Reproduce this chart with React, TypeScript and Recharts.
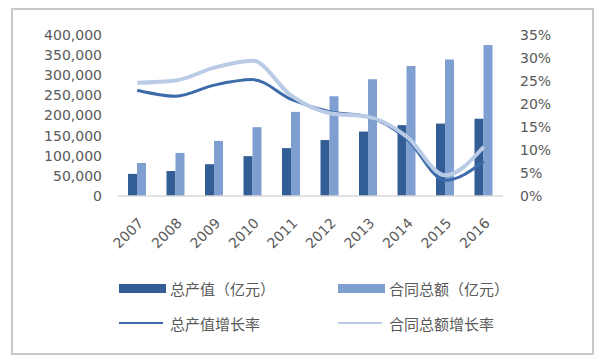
import React from 'react';
import { ComposedChart, Bar, Line, XAxis, YAxis } from 'recharts';

const years = ['2007', '2008', '2009', '2010', '2011', '2012', '2013', '2014', '2015', '2016'];
const outputValue = [55000, 62000, 79000, 99000, 119000, 139000, 160000, 176000, 180000, 192000];
const contractValue = [82000, 107000, 137000, 171000, 209000, 248000, 290000, 323000, 339000, 375000];
const outputGrowth = [23.0, 21.7, 24.1, 25.3, 21.0, 18.3, 17.2, 12.4, 3.4, 7.5];
const contractGrowth = [24.6, 25.1, 27.9, 29.4, 21.8, 18.0, 17.2, 12.9, 4.5, 10.7];

const leftTicks = [0, 50000, 100000, 150000, 200000, 250000, 300000, 350000, 400000];
const rightTicks = [0, 5, 10, 15, 20, 25, 30, 35];

const names = ['总产值（亿元）', '合同总额（亿元）', '总产值增长率', '合同总额增长率'];
const colors = ['#325e95', '#7f9fd0', '#3d6aa9', '#b9cbe5'];

const data = years.map((y, i) => ({
  year: y,
  output: outputValue[i],
  contract: contractValue[i],
  outputRate: outputGrowth[i],
  contractRate: contractGrowth[i],
}));

const axisTick = { fill: '#595959', fontSize: 14, fontFamily: 'DejaVu Sans' };

const LegendBox = () => (
  <div style={{ position: 'absolute', left: 0, top: 0, width: 600, height: 360, pointerEvents: 'none', fontFamily: '"Noto Sans CJK SC"', fontSize: 15, color: '#595959' }}>
    {names.map((n, i) => {
      const left = i % 2 === 0 ? 119 : 338;
      const top = i < 2 ? 288 : 323;
      const isBar = i < 2;
      return (
        <div key={n} style={{ position: 'absolute', left, top: top - 11, height: 22, display: 'flex', alignItems: 'center', whiteSpace: 'nowrap' }}>
          <span style={{ display: 'inline-block', width: isBar ? 47 : 44, height: isBar ? 9 : 2, background: colors[i], marginRight: isBar ? 4 : 7 }} />
          <span>{n}</span>
        </div>
      );
    })}
  </div>
);

export default function App() {
  return (
    <div style={{ position: 'absolute', left: 0, top: 0, width: 600, height: 360, background: '#fff' }}>
      <div style={{ position: 'absolute', left: 11, top: 8, width: 579, height: 343, border: '2px solid #c9c9c9' }} />
      <ComposedChart width={600} height={360} data={data} margin={{ top: 35, right: 0, bottom: 104, left: 0 }} barGap={0}>
        <XAxis
          dataKey="year"
          height={60}
          interval={0}
          angle={-45}
          textAnchor="end"
          tickLine={false}
          tickMargin={15}
          axisLine={{ stroke: '#d9d9d9', strokeWidth: 1.5 }}
          tick={axisTick}
        />
        <YAxis
          yAxisId="left"
          width={118}
          domain={[0, 400000]}
          ticks={leftTicks}
          interval={0}
          axisLine={false}
          tickLine={false}
          tickMargin={10}
          tick={axisTick}
          tickFormatter={(v: number) => v.toLocaleString('en-US')}
        />
        <YAxis
          yAxisId="right"
          orientation="right"
          width={97}
          domain={[0, 35]}
          ticks={rightTicks}
          interval={0}
          axisLine={false}
          tickLine={false}
          tickMargin={11}
          tick={axisTick}
          tickFormatter={(v: number) => `${v}%`}
        />
        <Bar yAxisId="left" dataKey="output" name={names[0]} fill={colors[0]} barSize={9} isAnimationActive={false} />
        <Bar yAxisId="left" dataKey="contract" name={names[1]} fill={colors[1]} barSize={9} isAnimationActive={false} />
        <Line yAxisId="right" type="monotone" dataKey="outputRate" name={names[2]} stroke={colors[2]} strokeWidth={3} dot={false} isAnimationActive={false} />
        <Line yAxisId="right" type="monotone" dataKey="contractRate" name={names[3]} stroke={colors[3]} strokeWidth={4} dot={false} isAnimationActive={false} />
      </ComposedChart>
      <LegendBox />
    </div>
  );
}
